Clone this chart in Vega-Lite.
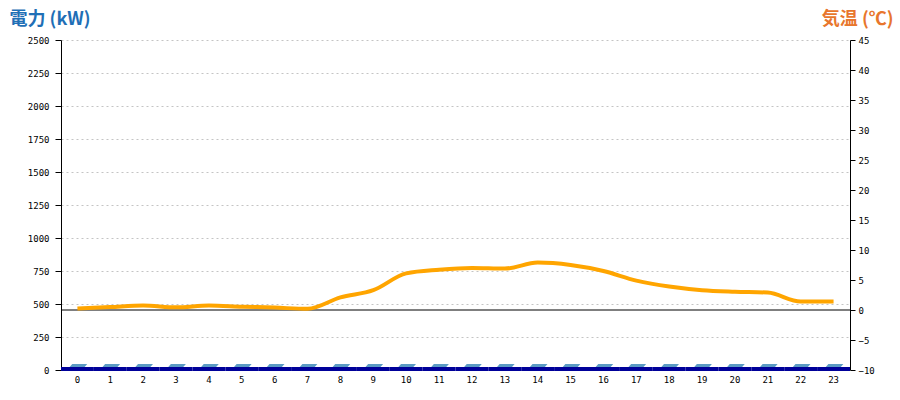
{
  "$schema": "https://vega.github.io/schema/vega-lite/v6.json",
  "width": 789,
  "height": 330,
  "autosize": {"type": "none"},
  "padding": {"left": 61, "top": 40, "right": 50, "bottom": 30},
  "background": "white",
  "config": {
    "view": {"stroke": null},
    "axis": {
      "labelFont": "DejaVu Sans Mono",
      "labelFontSize": 9,
      "labelColor": "#000000",
      "domainColor": "#000000",
      "tickColor": "#000000"
    }
  },
  "data": {
    "values": [
      {"hour": 0, "power": 0, "temp": 0.25},
      {"hour": 1, "power": 0, "temp": 0.5},
      {"hour": 2, "power": 0, "temp": 0.75},
      {"hour": 3, "power": 0, "temp": 0.45},
      {"hour": 4, "power": 0, "temp": 0.75},
      {"hour": 5, "power": 0, "temp": 0.55},
      {"hour": 6, "power": 0, "temp": 0.4},
      {"hour": 7, "power": 0, "temp": 0.2},
      {"hour": 8, "power": 0, "temp": 2.1},
      {"hour": 9, "power": 0, "temp": 3.3},
      {"hour": 10, "power": 0, "temp": 6.1},
      {"hour": 11, "power": 0, "temp": 6.7},
      {"hour": 12, "power": 0, "temp": 7.0},
      {"hour": 13, "power": 0, "temp": 6.9},
      {"hour": 14, "power": 0, "temp": 7.9},
      {"hour": 15, "power": 0, "temp": 7.5},
      {"hour": 16, "power": 0, "temp": 6.5},
      {"hour": 17, "power": 0, "temp": 4.9},
      {"hour": 18, "power": 0, "temp": 3.9},
      {"hour": 19, "power": 0, "temp": 3.3},
      {"hour": 20, "power": 0, "temp": 3.05},
      {"hour": 21, "power": 0, "temp": 2.9},
      {"hour": 22, "power": 0, "temp": 1.4},
      {"hour": 23, "power": 0, "temp": 1.4}
    ]
  },
  "encoding": {
    "x": {
      "field": "hour",
      "type": "ordinal",
      "scale": {"paddingInner": 0, "paddingOuter": 0},
      "axis": {
        "title": null,
        "labelAngle": 0,
        "ticks": false,
        "domain": false,
        "labelPadding": 5,
        "grid": false
      }
    }
  },
  "layer": [
    {
      "encoding": {
        "y": {
          "field": "power",
          "type": "quantitative",
          "scale": {"domain": [0, 2500], "nice": false, "zero": true},
          "axis": {
            "values": [0, 250, 500, 750, 1000, 1250, 1500, 1750, 2000, 2250, 2500],
            "format": "d",
            "title": "電力 (kW)",
            "titleAngle": 0,
            "titleAlign": "left",
            "titleBaseline": "alphabetic",
            "titleX": -52,
            "titleY": -16,
            "titleFont": "Noto Sans CJK JP",
            "titleFontSize": 18,
            "titleFontWeight": "bold",
            "titleColor": "#1f6fb6",
            "tickSize": 6,
            "labelPadding": 6,
            "grid": true,
            "gridColor": "#c4c4c4",
            "gridDash": [2, 3],
            "gridWidth": 1
          }
        }
      },
      "layer": [
        {
          "mark": {"type": "bar", "color": "#000099", "yOffset": -3, "y2Offset": 1},
          "encoding": {"y2": {"datum": 0}}
        },
        {
          "mark": {
            "type": "point",
            "filled": true,
            "opacity": 1,
            "color": "#5b9bc4",
            "size": 310,
            "shape": "M -0.7 -0.16 L 1 -0.16 L 0.7 0.16 L -1 0.16 Z",
            "xOffset": 1,
            "yOffset": -4.5
          }
        }
      ]
    },
    {
      "encoding": {
        "y": {
          "field": "temp",
          "type": "quantitative",
          "scale": {"domain": [-10, 45], "nice": false, "zero": false},
          "axis": {
            "orient": "right",
            "values": [-10, -5, 0, 5, 10, 15, 20, 25, 30, 35, 40, 45],
            "format": "d",
            "title": "気温 (℃)",
            "titleAngle": 0,
            "titleAlign": "right",
            "titleBaseline": "alphabetic",
            "titleX": 43,
            "titleY": -16,
            "titleFont": "Noto Sans CJK JP",
            "titleFontSize": 18,
            "titleFontWeight": "bold",
            "titleColor": "#e8762c",
            "tickSize": 5,
            "labelPadding": 3,
            "grid": false
          }
        }
      },
      "layer": [
        {
          "data": {"values": [{"zero": 0}]},
          "mark": {"type": "rule", "color": "#000000", "strokeWidth": 1},
          "encoding": {
            "x": null,
            "y": {"field": "zero", "type": "quantitative"}
          }
        },
        {
          "mark": {
            "type": "line",
            "color": "#ffa500",
            "strokeWidth": 4,
            "interpolate": "monotone"
          }
        }
      ]
    }
  ],
  "resolve": {"scale": {"y": "independent"}, "axis": {"y": "independent"}}
}
